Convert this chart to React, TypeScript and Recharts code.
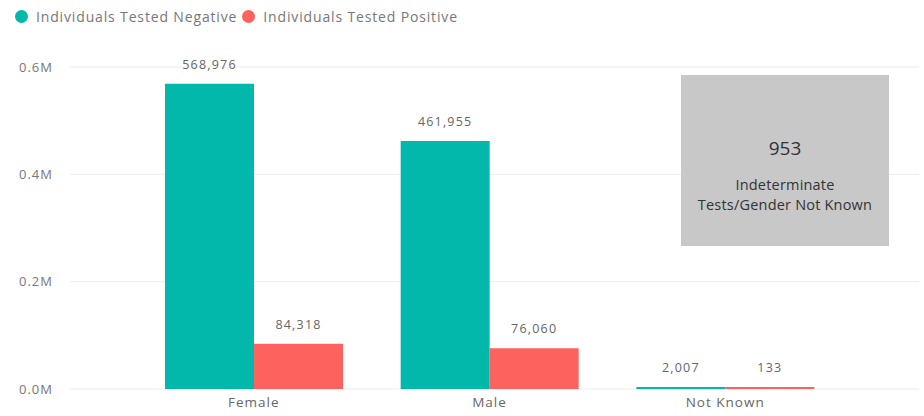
import React from 'react';
import { BarChart, Bar, XAxis, YAxis, CartesianGrid, LabelList } from 'recharts';

const categories = ['Female', 'Male', 'Not Known'];
const testedNegative = [568976, 461955, 2007];
const testedPositive = [84318, 76060, 133];
const yTicks = [0, 200000, 400000, 600000];
const seriesNames = ['Individuals Tested Negative', 'Individuals Tested Positive'];
const seriesColors = ['#01B8AA', '#FD625E'];
const indeterminateCount = 953;
const indeterminateLabel = ['Indeterminate', 'Tests/Gender Not Known'];

const data = categories.map((c, i) => ({
  category: c,
  negative: testedNegative[i],
  positive: testedPositive[i],
}));

const FONT = "'Open Sans', 'Noto Sans', sans-serif";
const fmtNum = (v: any) => Number(v).toLocaleString('en-US');
const fmtM = (v: number) => (v / 1e6).toFixed(1) + 'M';

export default function App() {
  return (
    <div style={{ position: 'absolute', left: 0, top: 0, width: 924, height: 416, background: '#fff', fontFamily: FONT }}>
      <div style={{ position: 'absolute', left: 15, top: 7, display: 'flex', alignItems: 'center', fontSize: 14, letterSpacing: 0.85, color: '#777', whiteSpace: 'nowrap' }}>
        {seriesNames.map((n, i) => (
          <div key={n} style={{ display: 'flex', alignItems: 'center', marginRight: 5 }}>
            <span style={{ display: 'inline-block', width: 13, height: 13, borderRadius: 7, background: seriesColors[i], marginRight: 8 }} />
            <span>{n}</span>
          </div>
        ))}
      </div>
      <BarChart
        width={924}
        height={416}
        data={data}
        margin={{ top: 67, right: 5, bottom: 0, left: 0 }}
        barCategoryGap={29}
        barGap={0}
        style={{ fontFamily: FONT }}
      >
        <CartesianGrid vertical={false} stroke="#ececec" />
        <XAxis
          dataKey="category"
          axisLine={false}
          tickLine={false}
          tickSize={0}
          tickMargin={8}
          height={27}
          padding={{ left: 66, right: 76 }}
          tick={{ fill: '#666', fontSize: 13.5, letterSpacing: 1 }}
        />
        <YAxis
          width={70}
          domain={[0, 600000]}
          ticks={yTicks}
          tickFormatter={fmtM}
          axisLine={false}
          tickLine={false}
          tickSize={0}
          tickMargin={17}
          tick={{ fill: '#777', fontSize: 13, letterSpacing: 1 }}
        />
        <Bar dataKey="negative" name={seriesNames[0]} fill={seriesColors[0]} isAnimationActive={false} minPointSize={2}>
          <LabelList dataKey="negative" position="top" offset={15} formatter={fmtNum} fill="#666" fontSize={12.5} letterSpacing={1.2} />
        </Bar>
        <Bar dataKey="positive" name={seriesNames[1]} fill={seriesColors[1]} isAnimationActive={false} minPointSize={2}>
          <LabelList dataKey="positive" position="top" offset={15} formatter={fmtNum} fill="#666" fontSize={12.5} letterSpacing={1.2} />
        </Bar>
      </BarChart>
      <div style={{ position: 'absolute', left: 681, top: 75, width: 208, height: 171, background: '#c8c8c8', color: '#333', textAlign: 'center' }}>
        <div style={{ position: 'absolute', top: 60, width: '100%', fontSize: 19 }}>{indeterminateCount}</div>
        <div style={{ position: 'absolute', top: 100, width: '100%', fontSize: 14.5, letterSpacing: 0.2, lineHeight: '20px' }}>
          {indeterminateLabel[0]}<br />{indeterminateLabel[1]}
        </div>
      </div>
    </div>
  );
}
